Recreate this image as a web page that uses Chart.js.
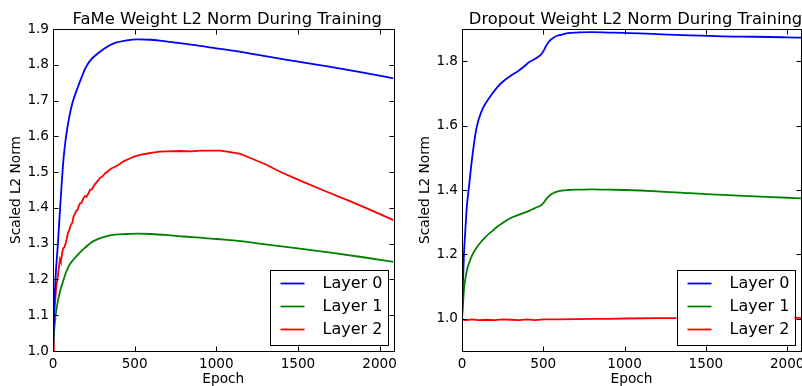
<!DOCTYPE html>
<html>
<head>
<meta charset="utf-8">
<script src="https://cdn.jsdelivr.net/npm/chart.js@4.4.0/dist/chart.umd.min.js"></script>
<style>
    html, body { margin: 0; padding: 0; background: #fff; overflow: hidden; }
    #wrap { position: relative; width: 802px; height: 386px; }
    #fame-chart { position: absolute; left: 0; top: 0; }
    #dropout-chart { position: absolute; left: 400px; top: 0; }
</style>
</head>
<body>
<div id="wrap">
    <canvas id="fame-chart" width="400" height="386" style="width:400px;height:386px"></canvas>
    <canvas id="dropout-chart" width="402" height="386" style="width:402px;height:386px"></canvas>
</div>
<script>
// Values
const seriesLabels = ['Layer 0', 'Layer 1', 'Layer 2'];
const seriesColors = ['#0000ff', '#008000', '#ff0000'];
const xTicks = [0, 500, 1000, 1500, 2000];
const fameYTicks = [1.0, 1.1, 1.2, 1.3, 1.4, 1.5, 1.6, 1.7, 1.8, 1.9];
const dropoutYTicks = [1.0, 1.2, 1.4, 1.6, 1.8];

// FaMe
const fameEpochs = [0, 6, 15, 30, 45, 55, 65, 80, 100, 120, 150, 175, 200, 230, 270, 320, 380, 450, 520, 600,
    700, 800, 900, 1000, 1150, 1300, 1500, 1700, 1900, 2085];
const fameLayer0 = [1.0, 1.1, 1.2, 1.3, 1.41, 1.48, 1.54, 1.6, 1.655, 1.695, 1.735, 1.765, 1.792, 1.813, 1.83, 1.847, 1.861, 1.868, 1.871, 1.870,
    1.865, 1.859, 1.853, 1.846, 1.836, 1.824, 1.809, 1.794, 1.778, 1.762];
const fameLayer1 = [1.0, 1.05, 1.095, 1.14, 1.17, 1.185, 1.2, 1.22, 1.24, 1.253, 1.268, 1.28, 1.29, 1.302, 1.312, 1.32, 1.325, 1.327, 1.328, 1.327,
    1.324, 1.32, 1.317, 1.313, 1.307, 1.298, 1.287, 1.275, 1.262, 1.249];
const fameLayer2Epochs = [0, 5, 10, 15, 20, 27, 33, 38, 43, 48, 55, 62, 70, 78, 85, 92, 100, 109, 118, 126,
    134, 142, 150, 158, 166, 175, 185, 195, 205, 217, 227, 237, 247, 260, 275, 288, 300, 320, 340, 360,
    380, 400, 432, 470, 500, 534, 580, 620, 656, 700, 779, 850, 902, 960, 1025, 1086, 1147, 1227, 1300, 1400,
    1515, 1650, 1822, 1950, 2085];
const fameLayer2 = [1.0, 1.08, 1.12, 1.15, 1.18, 1.2, 1.222, 1.24, 1.256, 1.25, 1.27, 1.287, 1.29, 1.302, 1.315, 1.332, 1.338, 1.352, 1.358, 1.376,
    1.383, 1.392, 1.394, 1.405, 1.413, 1.414, 1.426, 1.433, 1.431, 1.44, 1.451, 1.451, 1.459, 1.468, 1.476, 1.484, 1.487, 1.497, 1.504, 1.511,
    1.515, 1.52, 1.53, 1.538, 1.544, 1.548, 1.552, 1.555, 1.557, 1.558, 1.559, 1.558, 1.56, 1.56, 1.56, 1.556, 1.551, 1.536, 1.522, 1.499,
    1.476, 1.45, 1.418, 1.393, 1.366];

// Dropout
const dropoutEpochs = [0, 5, 12, 20, 30, 43, 60, 88, 119, 150, 180, 215, 252, 300, 344, 380, 416, 445, 467, 485,
    498, 510, 520, 540, 560, 585, 611, 652, 700, 800, 900, 1000, 1200, 1400, 1600, 1800, 2000, 2085];
const dropoutLayer0 = [1.0, 1.1, 1.2, 1.27, 1.35, 1.41, 1.49, 1.59, 1.643, 1.673, 1.695, 1.718, 1.737, 1.755, 1.769, 1.783, 1.798, 1.806, 1.813, 1.82,
    1.829, 1.84, 1.85, 1.864, 1.872, 1.879, 1.882, 1.887, 1.889, 1.89, 1.889, 1.888, 1.884, 1.88, 1.877, 1.876, 1.874, 1.873];
const dropoutLayer1 = [1.0, 1.035, 1.09, 1.122, 1.15, 1.172, 1.195, 1.22, 1.24, 1.257, 1.27, 1.285, 1.298, 1.313, 1.322, 1.329, 1.336, 1.343, 1.348, 1.352,
    1.358, 1.366, 1.373, 1.383, 1.39, 1.395, 1.398, 1.4, 1.401, 1.402, 1.401, 1.4, 1.396, 1.39, 1.385, 1.38, 1.376, 1.374];
const dropoutLayer2Epochs = [0, 10, 30, 60, 100, 150, 200, 250, 300, 350, 400, 450, 500, 600, 700, 800, 900, 1000, 1200, 1400,
    1600, 1800, 2000, 2085];
const dropoutLayer2 = [1.0, 0.997, 0.996, 0.998, 0.996, 0.997, 0.996, 0.998, 0.997, 0.996, 0.998, 0.996, 0.998, 0.998, 0.999, 1.0, 1.0, 1.001, 1.002, 1.002,
    1.003, 1.003, 1.004, 1.003];

const FONT = 'DejaVu Sans';

function toPoints(xs, ys) {
    return xs.map((x, i) => ({ x: x, y: ys[i] }));
}

function makeDatasets(groups) {
    return groups.map((g, i) => ({
        label: seriesLabels[i],
        data: toPoints(g[0], g[1]),
        borderColor: seriesColors[i],
        backgroundColor: seriesColors[i],
        borderWidth: 1.8,
        pointRadius: 0,
        tension: 0,
        cubicInterpolationMode: g[2] ? 'monotone' : 'default'
    }));
}

// matplotlib-like frame: box, inward ticks, title and boxed legend
const framePlugin = {
    id: 'frame',
    afterDatasetsDraw(chart, args, opts) {
        const ctx = chart.ctx;
        const a = chart.chartArea;
        const xs = chart.scales.x;
        const ys = chart.scales.y;
        const L = Math.round(a.left) + 0.5, R = Math.round(a.right) + 0.5;
        const T = Math.round(a.top) + 0.5, B = Math.round(a.bottom) + 0.5;
        ctx.save();

        // legend box
        const lw = 118, lh = 75;
        const lx = R - 7 - lw, ly = B - 7 - lh;
        ctx.fillStyle = '#fff';
        ctx.fillRect(lx, ly, lw, lh);
        ctx.strokeStyle = '#000';
        ctx.lineWidth = 1;
        ctx.strokeRect(Math.round(lx) + 0.5, Math.round(ly) + 0.5, lw, lh);
        ctx.font = '16px "' + FONT + '"';
        ctx.textBaseline = 'middle';
        ctx.textAlign = 'left';
        chart.data.datasets.forEach((ds, i) => {
            const yy = ly + 14 + i * 23;
            ctx.strokeStyle = ds.borderColor;
            ctx.lineWidth = 1.8;
            ctx.beginPath();
            ctx.moveTo(lx + 11, yy);
            ctx.lineTo(lx + 35, yy);
            ctx.stroke();
            ctx.fillStyle = '#000';
            ctx.fillText(ds.label, lx + 53, yy);
        });

        // frame
        ctx.strokeStyle = '#000';
        ctx.lineWidth = 1;
        ctx.strokeRect(L, T, R - L, B - T);

        // inward ticks on all four sides
        const tl = 5;
        ctx.beginPath();
        opts.xTicks.forEach(v => {
            const px = Math.round(xs.getPixelForValue(v)) + 0.5;
            ctx.moveTo(px, B); ctx.lineTo(px, B - tl);
            ctx.moveTo(px, T); ctx.lineTo(px, T + tl);
        });
        opts.yTicks.forEach(v => {
            const py = Math.round(ys.getPixelForValue(v)) + 0.5;
            ctx.moveTo(L, py); ctx.lineTo(L + tl, py);
            ctx.moveTo(R, py); ctx.lineTo(R - tl, py);
        });
        ctx.stroke();

        // title
        ctx.fillStyle = '#000';
        ctx.font = '16.4px "' + FONT + '"';
        ctx.textAlign = 'center';
        ctx.textBaseline = 'alphabetic';
        ctx.fillText(opts.title, (a.left + a.right) / 2 + 4, 24);
        ctx.restore();
    }
};

function makeChart(id, cfg) {
    const ctx = document.getElementById(id).getContext('2d');
    return new Chart(ctx, {
        type: 'line',
        data: { datasets: cfg.datasets },
        options: {
            responsive: false,
            animation: false,
            layout: { padding: { top: 29, right: cfg.padRight, left: 0, bottom: 0 } },
            plugins: {
                legend: { display: false },
                tooltip: { enabled: false },
                frame: { title: cfg.title, xTicks: xTicks, yTicks: cfg.yTicks }
            },
            scales: {
                x: {
                    type: 'linear',
                    min: 0,
                    max: 2085,
                    grid: { display: false, drawTicks: false },
                    border: { display: false },
                    ticks: {
                        padding: 5,
                        color: '#000',
                        maxRotation: 0,
                        autoSkip: false,
                        font: { family: FONT, size: 13.6 },
                        callback: function(v) { return String(v); }
                    },
                    title: {
                        display: true,
                        text: 'Epoch',
                        color: '#000',
                        padding: 0,
                        font: { family: FONT, size: 13.7, lineHeight: 1 }
                    },
                    afterBuildTicks: function(scale) {
                        scale.ticks = xTicks.map(v => ({ value: v }));
                    },
                    afterFit: function(scale) {
                        scale.height = 35;
                        scale.paddingLeft = 0;
                        scale.paddingRight = 0;
                    }
                },
                y: {
                    min: cfg.yMin,
                    max: 1.9,
                    grid: { display: false, drawTicks: false },
                    border: { display: false },
                    ticks: {
                        padding: 4,
                        color: '#000',
                        autoSkip: false,
                        font: { family: FONT, size: 13.6 },
                        callback: function(v) { return v.toFixed(1); }
                    },
                    title: {
                        display: true,
                        text: 'Scaled L2 Norm',
                        color: '#000',
                        padding: { top: cfg.yTitlePad, bottom: 0 },
                        font: { family: FONT, size: 13.7 }
                    },
                    afterBuildTicks: function(scale) {
                        scale.ticks = cfg.yTicks.map(v => ({ value: v }));
                    },
                    afterFit: function(scale) {
                        scale.width = cfg.yWidth;
                        scale.paddingTop = 0;
                        scale.paddingBottom = 0;
                    }
                }
            }
        },
        plugins: [framePlugin]
    });
}

makeChart('fame-chart', {
    title: 'FaMe Weight L2 Norm During Training',
    datasets: makeDatasets([
        [fameEpochs, fameLayer0, true],
        [fameEpochs, fameLayer1, true],
        [fameLayer2Epochs, fameLayer2, false]
    ]),
    yTicks: fameYTicks,
    yMin: 1.0,
    yWidth: 53,
    yTitlePad: 8.5,
    padRight: 6.5
});

makeChart('dropout-chart', {
    title: 'Dropout Weight L2 Norm During Training',
    datasets: makeDatasets([
        [dropoutEpochs, dropoutLayer0, true],
        [dropoutEpochs, dropoutLayer1, true],
        [dropoutLayer2Epochs, dropoutLayer2, false]
    ]),
    yTicks: dropoutYTicks,
    yMin: 0.9,
    yWidth: 62,
    yTitlePad: 17.5,
    padRight: 1
});
</script>
</body>
</html>
